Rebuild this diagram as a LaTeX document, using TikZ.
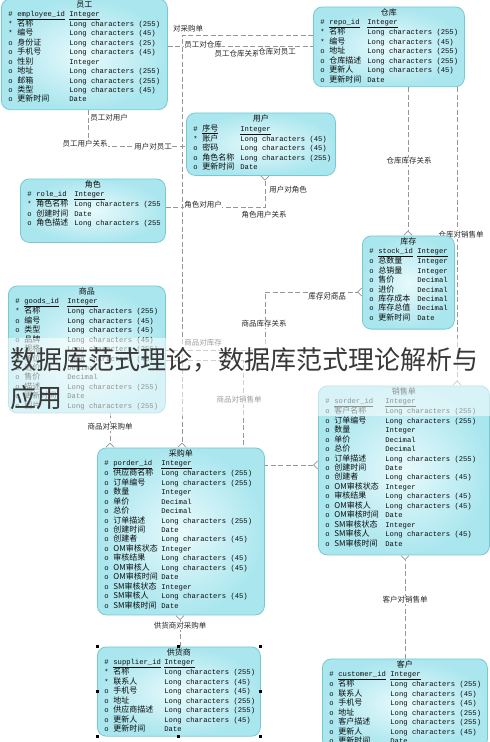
\documentclass[tikz,border=0pt]{standalone}
\usepackage{fontspec}
\setmainfont{Liberation Mono}
\newfontfamily\cjk{Noto Sans CJK SC}
\usepackage{array}
\usetikzlibrary{arrows.meta,backgrounds}

\definecolor{entline}{RGB}{120,200,210}
\definecolor{entin}{RGB}{232,250,252}
\definecolor{entout}{RGB}{170,230,238}
\definecolor{linkgray}{RGB}{150,150,150}

\newcolumntype{S}{>{\hspace{3pt}}p{12pt}}
\newcolumntype{N}[1]{>{\cjk\fontsize{8}{9}\selectfont}p{#1}}
\newcommand{\en}{\rmfamily\fontsize{7.2}{9}\selectfont}
\newcommand{\ttl}[1]{\multicolumn{3}{@{}c@{}}{\cjk\fontsize{8}{9}\selectfont #1}}
\newcommand{\mand}{{*}}

\tikzset{
  entity/.style={draw=entline, line width=0.8pt, rounded corners=9pt,
    inner color=entin, outer color=entout, anchor=north west,
    inner xsep=4pt, inner ysep=2pt, text=black!95,
    font=\fontsize{7.2}{9}\selectfont},
  link/.style={draw=linkgray, line width=0.7pt, dash pattern=on 5pt off 2.5pt},
  many/.style={-{Straight Barb[reversed,length=4pt,width=8pt]}},
  rolelbl/.style={fill=white, inner sep=0.6pt, text=black!85,
    font=\cjk\fontsize{7.5}{8}\selectfont},
  handle/.style={fill=black, minimum size=3pt, inner sep=0pt}
}

\begin{document}
\begin{tikzpicture}[x=1pt,y=-1pt]
\useasboundingbox (0,0) rectangle (490,742);
\clip (0,0) rectangle (490,742);

% tables
\node[entity] (yg) at (1,-1.5) {\begin{tabular}{@{}S@{}N{52pt}@{}p{94pt}@{}}
\ttl{员工}\\
\# & {\en\underline{employee\_id}} & \underline{Integer}\\
\mand & 名称 & Long characters (255)\\
\mand & 编号 & Long characters (45)\\
o & 身份证 & Long characters (25)\\
o & 手机号 & Long characters (45)\\
o & 性别 & Integer\\
o & 地址 & Long characters (255)\\
o & 邮箱 & Long characters (255)\\
o & 类型 & Long characters (45)\\
o & 更新时间 & Date\\[3pt]
\end{tabular}};

\node[entity] (ck) at (313,6.5) {\begin{tabular}{@{}S@{}N{38pt}@{}p{93pt}@{}}
\ttl{仓库}\\
\# & {\en\underline{repo\_id}} & \underline{Integer}\\
\mand & 名称 & Long characters (255)\\
\mand & 编号 & Long characters (45)\\
o & 地址 & Long characters (255)\\
o & 仓库描述 & Long characters (255)\\
o & 更新人 & Long characters (45)\\
o & 更新时间 & Date\\
\end{tabular}};

\node[entity] (yh) at (186,112.5) {\begin{tabular}{@{}S@{}N{38pt}@{}p{91pt}@{}}
\ttl{用户}\\
\# & \underline{序号} & \underline{Integer}\\
\mand & 账户 & Long characters (45)\\
o & 密码 & Long characters (45)\\
o & 角色名称 & Long characters (255)\\
o & 更新时间 & Date\\[1pt]
\end{tabular}};

\node[entity] (js) at (20,178.5) {\begin{tabular}{@{}S@{}N{38pt}@{}p{87pt}@{}}
\ttl{角色}\\
\# & {\en\underline{role\_id}} & \underline{Integer}\\
\mand & 角色名称 & Long characters (255\\
o & 创建时间 & Date\\
o & 角色描述 & Long characters (255\\[12pt]
\end{tabular}};

\node[entity] (kc) at (362,235.5) {\begin{tabular}{@{}S@{}N{39pt}@{}p{33pt}@{}}
\ttl{库存}\\
\# & {\en\underline{stock\_id}} & \underline{Integer}\\
o & 总数量 & Integer\\
o & 总销量 & Integer\\
o & 售价 & Decimal\\
o & 进价 & Decimal\\
o & 库存成本 & Decimal\\
o & 库存总值 & Decimal\\
o & 更新时间 & Date\\[4pt]
\end{tabular}};

\node[entity] (sp) at (8,285.5) {\begin{tabular}{@{}S@{}N{43pt}@{}p{94pt}@{}}
\ttl{商品}\\
\# & {\en\underline{goods\_id}} & \underline{Integer}\\
\mand & 名称 & Long characters (255)\\
o & 编号 & Long characters (45)\\
o & 类型 & Long characters (45)\\
o & 品牌 & Long characters (45)\\
o & 规格 & Long characters (255)\\
o & 单位 & Long characters (45)\\
o & 进价 & Decimal\\
o & 售价 & Decimal\\
o & 描述 & Long characters (255)\\
o & 更新时间 & Date\\
o & 图片 & Long characters (255)\\
\end{tabular}};

\node[entity] (xs) at (318,385.5) {\begin{tabular}{@{}S@{}N{51pt}@{}p{100pt}@{}}
\ttl{销售单}\\
\# & {\en\underline{sorder\_id}} & \underline{Integer}\\
o & 客户名称 & Long characters (255)\\
o & 订单编号 & Long characters (255)\\
o & 数量 & Integer\\
o & 单价 & Decimal\\
o & 总价 & Decimal\\
o & 订单描述 & Long characters (255)\\
o & 创建时间 & Date\\
o & 创建者 & Long characters (45)\\
o & OM审核状态 & Integer\\
o & 审核结果 & Long characters (45)\\
o & OM审核人 & Long characters (45)\\
o & OM审核时间 & Date\\
o & SM审核状态 & Integer\\
o & SM审核人 & Long characters (45)\\
o & SM审核时间 & Date\\[4pt]
\end{tabular}};

\node[entity] (cg) at (97,447.5) {\begin{tabular}{@{}S@{}N{48pt}@{}p{99pt}@{}}
\ttl{采购单}\\
\# & {\en\underline{porder\_id}} & \underline{Integer}\\
o & 供应商名称 & Long characters (255)\\
o & 订单编号 & Long characters (255)\\
o & 数量 & Integer\\
o & 单价 & Decimal\\
o & 总价 & Decimal\\
o & 订单描述 & Long characters (255)\\
o & 创建时间 & Date\\
o & 创建者 & Long characters (45)\\
o & OM审核状态 & Integer\\
o & 审核结果 & Long characters (45)\\
o & OM审核人 & Long characters (45)\\
o & OM审核时间 & Date\\
o & SM审核状态 & Integer\\
o & SM审核人 & Long characters (45)\\
o & SM审核时间 & Date\\[2pt]
\end{tabular}};

\node[entity] (gh) at (97,646.5) {\begin{tabular}{@{}S@{}N{51pt}@{}p{92pt}@{}}
\ttl{供货商}\\
\# & {\en\underline{supplier\_id}} & \underline{Integer}\\
\mand & 名称 & Long characters (255)\\
\mand & 联系人 & Long characters (45)\\
o & 手机号 & Long characters (45)\\
o & 地址 & Long characters (255)\\
o & 供应商描述 & Long characters (255)\\
o & 更新人 & Long characters (45)\\
o & 更新时间 & Date\\
\end{tabular}};

\node[entity] (kh) at (322,658.5) {\begin{tabular}{@{}S@{}N{52pt}@{}p{93pt}@{}}
\ttl{客户}\\
\# & {\en\underline{customer\_id}} & \underline{Integer}\\
o & 名称 & Long characters (255)\\
o & 联系人 & Long characters (45)\\
o & 手机号 & Long characters (45)\\
o & 地址 & Long characters (255)\\
o & 客户描述 & Long characters (255)\\
o & 更新人 & Long characters (45)\\
o & 更新时间 & Date\\
\end{tabular}};

% selection handles
\foreach \a/\n in {north west/a, north/b, north east/c, east/d, south east/e, south/f, south west/g, west/h}
  \node[handle] (gh-\n) at (gh.\a) {};

% relations
\begin{scope}[on background layer]
\fill[white] (0,0) rectangle (490,742);
\draw[link] (yg.east |- 0,46) -- (ck.west |- 0,46);
\draw[link, many] (ck.west |- 0,35) -| (cg.north -| 182,0);
\draw[link] (yg.south -| 88,0) |- (yh.west |- 0,146);
\draw[link, many] (js.east |- 0,207) -| (yh.south -| 265,0);
\draw[link, many] (ck.south -| 408,0) -- (kc.north -| 408,0);
\draw[link, many] (ck.south -| 457,0) -- (xs.north -| 457,0);
\draw[link, many] (sp.east |- 0,350) -| (265,292) -- (kc.west |- 0,292);
\draw[link, many] (sp.east |- 0,360) -| (243,465) -- (xs.west |- 0,465);
\draw[link, many] (sp.south -| 110,0) -- (cg.north -| 110,0);
\draw[link, many] (gh.north -| 180,0) -- (cg.south -| 180,0);
\draw[link, many] (kh.north -| 405,0) -- (xs.south -| 405,0);

\node[rolelbl] (r1) at (188,29) {对采购单};
\node[rolelbl] (r2) at (203,45) {员工对仓库};
\node[rolelbl] (r3) at (237,54) {员工仓库关系};
\node[rolelbl] (r4) at (277,52) {仓库对员工};
\node[rolelbl] (r5) at (109,118) {员工对用户};
\node[rolelbl] (r6) at (85,144) {员工用户关系};
\node[rolelbl] (r7) at (153,147) {用户对员工};
\node[rolelbl] (r8) at (288,190) {用户对角色};
\node[rolelbl] (r9) at (203,205) {角色对用户};
\node[rolelbl] (r10) at (264,215) {角色用户关系};
\node[rolelbl] (r11) at (409,161) {仓库库存关系};
\node[rolelbl] (r12) at (461,235) {仓库对销售单};
\node[rolelbl] (r13) at (327,297) {库存对商品};
\node[rolelbl] (r14) at (264,324) {商品库存关系};
\node[rolelbl] (r15) at (203,343) {商品对库存};
\node[rolelbl] (r16) at (239,400) {商品对销售单};
\node[rolelbl] (r17) at (110,427) {商品对采购单};
\node[rolelbl] (r18) at (180,626) {供货商对采购单};
\node[rolelbl] (r19) at (405,600) {客户对销售单};
\end{scope}

% overlay
\fill[white, opacity=0.55] (0,338) rectangle (490,416);
\node[anchor=west, inner sep=0pt, text=black!78, font=\cjk\fontsize{26}{30}\selectfont] (wm1) at (10,360) {数据库范式理论，数据库范式理论解析与};
\node[anchor=west, inner sep=0pt, text=black!78, font=\cjk\fontsize{26}{30}\selectfont] (wm2) at (10,398) {应用};
\end{tikzpicture}
\end{document}
